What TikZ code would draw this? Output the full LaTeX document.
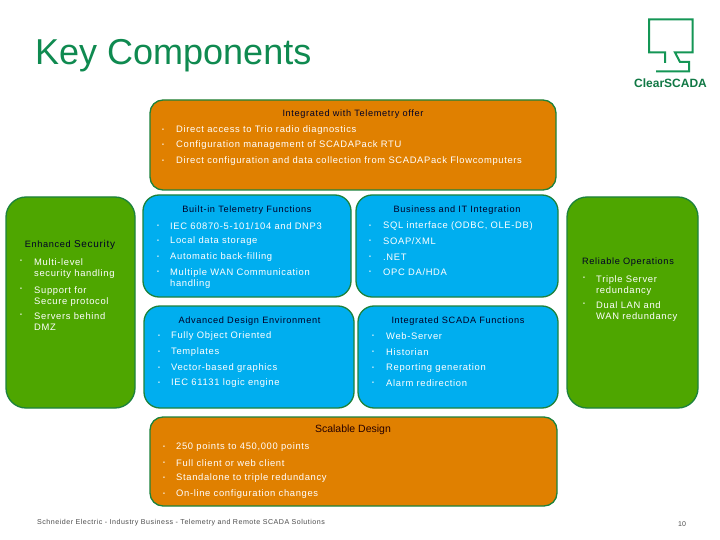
\documentclass[tikz,border=0pt]{standalone}
\usepackage{fontspec}
\setmainfont{Liberation Sans}
\newfontfamily\spaced[LetterSpace=7]{Liberation Sans}
\definecolor{boxorange}{RGB}{224,128,0}
\definecolor{boxblue}{RGB}{0,174,239}
\definecolor{boxgreen}{RGB}{78,166,0}
\definecolor{edgegreen}{RGB}{28,130,60}
\definecolor{titlegreen}{RGB}{15,138,80}
\definecolor{logogreen}{RGB}{20,150,85}
\begin{document}
\begin{tikzpicture}[x=1pt,y=-1pt,
panel/.style={draw=edgegreen,line width=1.3pt},
head/.style={font=\spaced\fontsize{9.2}{10}\selectfont,text=black!85!blue,inner sep=0pt},
itemtext/.style={anchor=west,align=left,font=\spaced\fontsize{9.4}{11}\selectfont,text=white,inner sep=0pt},
itemdot/.style={font=\fontsize{5.5}{6}\selectfont,text=white,inner sep=0pt}]
\useasboundingbox (0,0) rectangle (720,540);
\fill[white] (0,0) rectangle (720,540);
\node[anchor=west,text=titlegreen,font=\fontsize{36}{40}\selectfont,inner sep=0pt] (pagetitle) at (35,56) {Key Components};
% logo
\draw[logogreen,line width=2pt] (665,63) -- (665,52.5) -- (649,52.5) -- (649,19.5) -- (692.5,19.5) -- (692.5,52.5) -- (675,52.5) -- (680,62) -- (689,62) -- (689,71.5) -- (656,71.5);
\node[text=logogreen!80!black,font=\bfseries\fontsize{12}{13}\selectfont,inner sep=0pt] (logoname) at (670.5,83) {ClearSCADA};
% panels
\draw[panel,fill=boxorange,rounded corners=13pt] (150,100) rectangle (556,190);
\draw[panel,fill=boxblue,rounded corners=16pt] (143,195) rectangle (351,297);
\draw[panel,fill=boxblue,rounded corners=16pt] (356,195) rectangle (558,297);
\draw[panel,fill=boxblue,rounded corners=16pt] (144,306) rectangle (354,408);
\draw[panel,fill=boxblue,rounded corners=16pt] (358,306) rectangle (558,408);
\draw[panel,fill=boxgreen,rounded corners=20pt] (6,197) rectangle (135,408);
\draw[panel,fill=boxgreen,rounded corners=20pt] (567,197) rectangle (698,408);
\draw[panel,fill=boxorange,rounded corners=13pt] (150,417) rectangle (557,506);
% top orange
\node[head] (telehead) at (353,114) {Integrated with Telemetry offer};
\foreach \n/\y/\t in {1/130/Direct access to Trio radio diagnostics,2/145/Configuration management of SCADAPack RTU,3/161/Direct configuration and data collection from SCADAPack Flowcomputers} {
\node[itemdot] (teledot\n) at (163,\y) {•};
\node[itemtext] (tele\n) at (176,\y) {\t};
}
% built-in
\node[head] (builthead) at (247,210) {Built-in Telemetry Functions};
\foreach \n/\y/\t in {1/226/{IEC 60870-5-101/104 and DNP3},2/241/Local data storage,3/257/Automatic back-filling} {
\node[itemdot] (builtdot\n) at (158,\y) {•};
\node[itemtext] (built\n) at (170,\y) {\t};
}
\node[itemdot] (builtdot4) at (158,272) {•};
\node[itemtext,anchor=north west] (built4) at (170,268.5) {Multiple WAN Communication\\handling};
% business
\node[head] (bizhead) at (457,210) {Business and IT Integration};
\foreach \n/\y/\t in {1/226/{SQL interface (ODBC, OLE-DB)},2/241/{SOAP/XML},3/257/.NET,4/272/{OPC DA/HDA}} {
\node[itemdot] (bizdot\n) at (370,\y) {•};
\node[itemtext] (biz\n) at (383,\y) {\t};
}
% design
\node[head] (designhead) at (249.5,321) {Advanced Design Environment};
\foreach \n/\y/\t in {1/336/Fully Object Oriented,2/352/Templates,3/368/Vector-based graphics,4/383/IEC 61131 logic engine} {
\node[itemdot] (designdot\n) at (159,\y) {•};
\node[itemtext] (design\n) at (171,\y) {\t};
}
% scada
\node[head] (scadahead) at (458,321) {Integrated SCADA Functions};
\foreach \n/\y/\t in {1/336/Web-Server,2/352/Historian,3/368/Reporting generation,4/383/Alarm redirection} {
\node[itemdot] (scadadot\n) at (373,\y) {•};
\node[itemtext] (scada\n) at (386,\y) {\t};
}
% left green
\node[head] (sechead) at (70,245) {Enhanced {\fontsize{10}{10}\selectfont Security}};
\foreach \n/\y/\t in {1/261/Multi-level\\security handling,2/289/Support for\\Secure protocol,3/315/Servers behind\\DMZ} {
\node[itemdot] (secdot\n) at (21,\y) {•};
\node[itemtext,anchor=north west] (sec\n) at (34,\y-3) {\t};
}
% right green
\node[head] (relhead) at (628,262) {Reliable Operations};
\foreach \n/\y/\t in {1/278/Triple Server\\redundancy,2/304/Dual LAN and\\WAN redundancy} {
\node[itemdot] (reldot\n) at (584,\y) {•};
\node[itemtext,anchor=north west] (rel\n) at (596,\y-3) {\t};
}
% bottom orange
\node[text=black!85!red,font=\fontsize{10.5}{12}\selectfont,inner sep=0pt] (scalehead) at (353,430) {Scalable Design};
\foreach \n/\y/\t in {1/447/{250 points to 450,000 points},2/463/Full client or web client,3/478/Standalone to triple redundancy,4/494/On-line configuration changes} {
\node[itemdot] (scaledot\n) at (164,\y) {•};
\node[itemtext] (scale\n) at (176,\y) {\t};
}
% footer
\node[anchor=west,text=black!70,font=\spaced\fontsize{7.1}{8}\selectfont,inner sep=0pt] (footer) at (37,523) {Schneider Electric - Industry Business - Telemetry and Remote SCADA Solutions};
\node[text=black!70,font=\fontsize{7}{8}\selectfont,inner sep=0pt] (pagenum) at (682,524) {10};
\end{tikzpicture}
\end{document}
